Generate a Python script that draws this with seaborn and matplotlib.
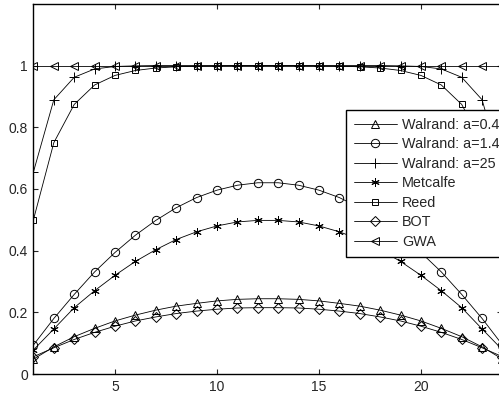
import matplotlib
matplotlib.use("Agg")
import matplotlib.pyplot as plt
import seaborn as sns

# x positions
x = list(range(1, 25))

# series values
walrand_04 = [0.048, 0.088, 0.121, 0.148, 0.172, 0.191, 0.207, 0.220, 0.229, 0.237, 0.242, 0.244,
              0.244, 0.242, 0.237, 0.229, 0.220, 0.207, 0.191, 0.172, 0.148, 0.121, 0.088, 0.048]
walrand_14 = [0.094, 0.180, 0.258, 0.331, 0.394, 0.450, 0.498, 0.539, 0.572, 0.596, 0.612, 0.620,
              0.620, 0.612, 0.596, 0.572, 0.539, 0.498, 0.450, 0.394, 0.331, 0.258, 0.180, 0.094]
walrand_25 = [0.655, 0.889, 0.962, 0.989, 0.997, 0.999, 1.0, 1.0, 1.0, 1.0, 1.0, 1.0,
              1.0, 1.0, 1.0, 1.0, 1.0, 1.0, 0.999, 0.997, 0.989, 0.962, 0.889, 0.655]
metcalfe = [0.078, 0.146, 0.215, 0.270, 0.320, 0.365, 0.403, 0.436, 0.461, 0.480, 0.493, 0.498,
            0.498, 0.493, 0.480, 0.461, 0.436, 0.403, 0.365, 0.320, 0.270, 0.215, 0.146, 0.078]
reed = [0.500, 0.750, 0.874, 0.937, 0.968, 0.984, 0.992, 0.996, 0.998, 0.999, 1.0, 1.0,
        1.0, 1.0, 0.999, 0.998, 0.996, 0.992, 0.984, 0.968, 0.937, 0.874, 0.750, 0.500]
bot = [0.056, 0.085, 0.112, 0.135, 0.155, 0.172, 0.185, 0.196, 0.204, 0.210, 0.214, 0.215,
       0.215, 0.214, 0.210, 0.204, 0.196, 0.185, 0.172, 0.155, 0.135, 0.112, 0.085, 0.056]
gwa = [1.0] * 24

labels = ["Walrand: a=0.4", "Walrand: a=1.4", "Walrand: a=25", "Metcalfe", "Reed", "BOT", "GWA"]
series = [walrand_04, walrand_14, walrand_25, metcalfe, reed, bot, gwa]
markers = ["^", "o", "+", (6, 2, 0), "s", "D", "<"]
msizes = [6, 6, 7, 6, 5, 5.5, 6]

sns.set_style("ticks")
plt.rcParams["font.family"] = ["Liberation Sans", "DejaVu Sans"]

fig = plt.figure(figsize=(4.99, 3.98), dpi=100)
ax = fig.add_axes([0.067, 0.0603, 0.940, 0.93])

for vals, lab, m, ms in zip(series, labels, markers, msizes):
    sns.lineplot(x=x, y=vals, ax=ax, color="black", marker=m, markersize=ms,
                 markerfacecolor="none", markeredgecolor="black", markeredgewidth=0.7,
                 linewidth=0.6, label=lab)

ax.set_xlim(1, 24)
ax.set_ylim(0, 1.2)
ax.set_xticks([5, 10, 15, 20])
ax.set_yticks([0, 0.2, 0.4, 0.6, 0.8, 1])
ax.set_yticklabels(["0", "0.2", "0.4", "0.6", "0.8", "1"])
ax.tick_params(direction="in", length=3.5, width=0.8, labelsize=10, top=True, right=True, pad=4)
for s in ax.spines.values():
    s.set_visible(True)
    s.set_linewidth(1.0)
    s.set_color("black")

leg = ax.legend(loc="upper left", bbox_to_anchor=(345.7 / 499, 1 - 110 / 398),
                bbox_transform=fig.transFigure, borderaxespad=0, fontsize=10.4,
                frameon=True, fancybox=False, framealpha=1, edgecolor="black",
                handlelength=3.0, handletextpad=0.35, labelspacing=0.38, borderpad=0.55)
leg.get_frame().set_linewidth(1.0)

fig.savefig("out.png", dpi=100)
